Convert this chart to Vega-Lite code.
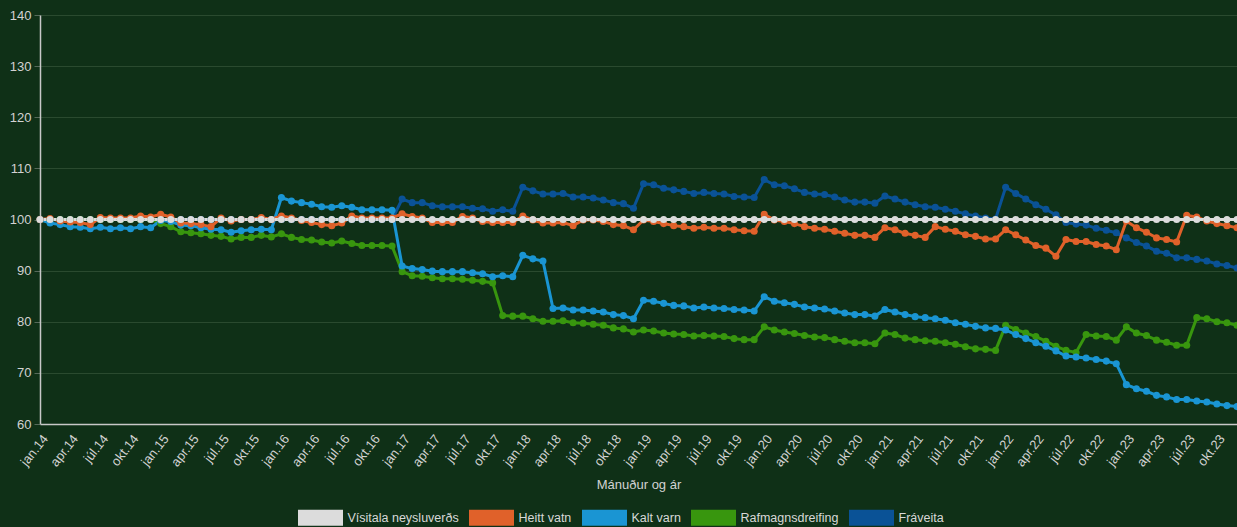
{
"$schema": "https://vega.github.io/schema/vega-lite/v6.json",
"width": 1197, "height": 409,
"autosize": {"type": "none"},
"padding": {"left": 40, "top": 15, "right": 0, "bottom": 103},
"background": "#0f3017",
"config": {"view": {"stroke": null}, "font": "Liberation Sans"},
"data": {"values": [
{"d":"2014-01","Vísitala neysluverðs":100,"Heitt vatn":100,"Kalt varn":100,"Rafmagnsdreifing":100,"Fráveita":100},
{"d":"2014-02","Vísitala neysluverðs":100,"Heitt vatn":100.2,"Kalt varn":99.3,"Rafmagnsdreifing":100,"Fráveita":100},
{"d":"2014-03","Vísitala neysluverðs":100,"Heitt vatn":99.7,"Kalt varn":99.0,"Rafmagnsdreifing":100,"Fráveita":100},
{"d":"2014-04","Vísitala neysluverðs":100,"Heitt vatn":99.5,"Kalt varn":98.6,"Rafmagnsdreifing":100,"Fráveita":100},
{"d":"2014-05","Vísitala neysluverðs":100,"Heitt vatn":99.4,"Kalt varn":98.5,"Rafmagnsdreifing":100,"Fráveita":100},
{"d":"2014-06","Vísitala neysluverðs":100,"Heitt vatn":99.0,"Kalt varn":98.2,"Rafmagnsdreifing":100,"Fráveita":100},
{"d":"2014-07","Vísitala neysluverðs":100,"Heitt vatn":100.4,"Kalt varn":98.5,"Rafmagnsdreifing":100,"Fráveita":100},
{"d":"2014-08","Vísitala neysluverðs":100,"Heitt vatn":100.3,"Kalt varn":98.2,"Rafmagnsdreifing":100,"Fráveita":100},
{"d":"2014-09","Vísitala neysluverðs":100,"Heitt vatn":100.3,"Kalt varn":98.4,"Rafmagnsdreifing":100,"Fráveita":100},
{"d":"2014-10","Vísitala neysluverðs":100,"Heitt vatn":100.3,"Kalt varn":98.2,"Rafmagnsdreifing":100,"Fráveita":100},
{"d":"2014-11","Vísitala neysluverðs":100,"Heitt vatn":100.7,"Kalt varn":98.6,"Rafmagnsdreifing":100,"Fráveita":100},
{"d":"2014-12","Vísitala neysluverðs":100,"Heitt vatn":100.5,"Kalt varn":98.4,"Rafmagnsdreifing":100,"Fráveita":100},
{"d":"2015-01","Vísitala neysluverðs":100,"Heitt vatn":101.0,"Kalt varn":99.8,"Rafmagnsdreifing":99.2,"Fráveita":100},
{"d":"2015-02","Vísitala neysluverðs":100,"Heitt vatn":100.5,"Kalt varn":99.6,"Rafmagnsdreifing":98.6,"Fráveita":100},
{"d":"2015-03","Vísitala neysluverðs":100,"Heitt vatn":99.3,"Kalt varn":98.9,"Rafmagnsdreifing":97.6,"Fráveita":100},
{"d":"2015-04","Vísitala neysluverðs":100,"Heitt vatn":99.2,"Kalt varn":98.8,"Rafmagnsdreifing":97.4,"Fráveita":100},
{"d":"2015-05","Vísitala neysluverðs":100,"Heitt vatn":99.0,"Kalt varn":98.4,"Rafmagnsdreifing":97.2,"Fráveita":100},
{"d":"2015-06","Vísitala neysluverðs":100,"Heitt vatn":98.6,"Kalt varn":98.1,"Rafmagnsdreifing":96.9,"Fráveita":100},
{"d":"2015-07","Vísitala neysluverðs":100,"Heitt vatn":100.3,"Kalt varn":98.0,"Rafmagnsdreifing":96.7,"Fráveita":100},
{"d":"2015-08","Vísitala neysluverðs":100,"Heitt vatn":99.7,"Kalt varn":97.5,"Rafmagnsdreifing":96.2,"Fráveita":100},
{"d":"2015-09","Vísitala neysluverðs":100,"Heitt vatn":100.0,"Kalt varn":97.8,"Rafmagnsdreifing":96.5,"Fráveita":100},
{"d":"2015-10","Vísitala neysluverðs":100,"Heitt vatn":100.0,"Kalt varn":98.0,"Rafmagnsdreifing":96.5,"Fráveita":100},
{"d":"2015-11","Vísitala neysluverðs":100,"Heitt vatn":100.4,"Kalt varn":98.1,"Rafmagnsdreifing":96.9,"Fráveita":100},
{"d":"2015-12","Vísitala neysluverðs":100,"Heitt vatn":100.0,"Kalt varn":98.0,"Rafmagnsdreifing":96.6,"Fráveita":100},
{"d":"2016-01","Vísitala neysluverðs":100,"Heitt vatn":100.7,"Kalt varn":104.3,"Rafmagnsdreifing":97.2,"Fráveita":100},
{"d":"2016-02","Vísitala neysluverðs":100,"Heitt vatn":100.3,"Kalt varn":103.6,"Rafmagnsdreifing":96.5,"Fráveita":100},
{"d":"2016-03","Vísitala neysluverðs":100,"Heitt vatn":99.8,"Kalt varn":103.3,"Rafmagnsdreifing":96.1,"Fráveita":100},
{"d":"2016-04","Vísitala neysluverðs":100,"Heitt vatn":99.4,"Kalt varn":103.0,"Rafmagnsdreifing":96.0,"Fráveita":100},
{"d":"2016-05","Vísitala neysluverðs":100,"Heitt vatn":99.0,"Kalt varn":102.5,"Rafmagnsdreifing":95.6,"Fráveita":100},
{"d":"2016-06","Vísitala neysluverðs":100,"Heitt vatn":98.8,"Kalt varn":102.4,"Rafmagnsdreifing":95.4,"Fráveita":100},
{"d":"2016-07","Vísitala neysluverðs":100,"Heitt vatn":99.3,"Kalt varn":102.7,"Rafmagnsdreifing":95.8,"Fráveita":100},
{"d":"2016-08","Vísitala neysluverðs":100,"Heitt vatn":100.7,"Kalt varn":102.4,"Rafmagnsdreifing":95.3,"Fráveita":100},
{"d":"2016-09","Vísitala neysluverðs":100,"Heitt vatn":100.3,"Kalt varn":101.9,"Rafmagnsdreifing":94.9,"Fráveita":100},
{"d":"2016-10","Vísitala neysluverðs":100,"Heitt vatn":100.3,"Kalt varn":101.9,"Rafmagnsdreifing":94.9,"Fráveita":100},
{"d":"2016-11","Vísitala neysluverðs":100,"Heitt vatn":100.3,"Kalt varn":101.9,"Rafmagnsdreifing":94.9,"Fráveita":100},
{"d":"2016-12","Vísitala neysluverðs":100,"Heitt vatn":100.3,"Kalt varn":101.8,"Rafmagnsdreifing":94.8,"Fráveita":100},
{"d":"2017-01","Vísitala neysluverðs":100,"Heitt vatn":101.1,"Kalt varn":90.9,"Rafmagnsdreifing":89.8,"Fráveita":104.0},
{"d":"2017-02","Vísitala neysluverðs":100,"Heitt vatn":100.6,"Kalt varn":90.4,"Rafmagnsdreifing":89.0,"Fráveita":103.3},
{"d":"2017-03","Vísitala neysluverðs":100,"Heitt vatn":100.3,"Kalt varn":90.2,"Rafmagnsdreifing":88.9,"Fráveita":103.3},
{"d":"2017-04","Vísitala neysluverðs":100,"Heitt vatn":99.4,"Kalt varn":89.9,"Rafmagnsdreifing":88.6,"Fráveita":102.7},
{"d":"2017-05","Vísitala neysluverðs":100,"Heitt vatn":99.4,"Kalt varn":89.8,"Rafmagnsdreifing":88.4,"Fráveita":102.5},
{"d":"2017-06","Vísitala neysluverðs":100,"Heitt vatn":99.4,"Kalt varn":89.8,"Rafmagnsdreifing":88.4,"Fráveita":102.5},
{"d":"2017-07","Vísitala neysluverðs":100,"Heitt vatn":100.6,"Kalt varn":89.8,"Rafmagnsdreifing":88.3,"Fráveita":102.5},
{"d":"2017-08","Vísitala neysluverðs":100,"Heitt vatn":100.3,"Kalt varn":89.6,"Rafmagnsdreifing":88.1,"Fráveita":102.2},
{"d":"2017-09","Vísitala neysluverðs":100,"Heitt vatn":99.6,"Kalt varn":89.4,"Rafmagnsdreifing":87.9,"Fráveita":102.1},
{"d":"2017-10","Vísitala neysluverðs":100,"Heitt vatn":99.4,"Kalt varn":88.8,"Rafmagnsdreifing":87.6,"Fráveita":101.6},
{"d":"2017-11","Vísitala neysluverðs":100,"Heitt vatn":99.4,"Kalt varn":89.0,"Rafmagnsdreifing":81.2,"Fráveita":101.9},
{"d":"2017-12","Vísitala neysluverðs":100,"Heitt vatn":99.4,"Kalt varn":88.8,"Rafmagnsdreifing":81.1,"Fráveita":101.6},
{"d":"2018-01","Vísitala neysluverðs":100,"Heitt vatn":100.7,"Kalt varn":93.0,"Rafmagnsdreifing":81.1,"Fráveita":106.3},
{"d":"2018-02","Vísitala neysluverðs":100,"Heitt vatn":99.9,"Kalt varn":92.3,"Rafmagnsdreifing":80.6,"Fráveita":105.6},
{"d":"2018-03","Vísitala neysluverðs":100,"Heitt vatn":99.3,"Kalt varn":91.9,"Rafmagnsdreifing":80.1,"Fráveita":105.0},
{"d":"2018-04","Vísitala neysluverðs":100,"Heitt vatn":99.3,"Kalt varn":82.6,"Rafmagnsdreifing":80.1,"Fráveita":105.0},
{"d":"2018-05","Vísitala neysluverðs":100,"Heitt vatn":99.4,"Kalt varn":82.7,"Rafmagnsdreifing":80.2,"Fráveita":105.1},
{"d":"2018-06","Vísitala neysluverðs":100,"Heitt vatn":98.8,"Kalt varn":82.3,"Rafmagnsdreifing":79.8,"Fráveita":104.4},
{"d":"2018-07","Vísitala neysluverðs":100,"Heitt vatn":99.9,"Kalt varn":82.3,"Rafmagnsdreifing":79.7,"Fráveita":104.4},
{"d":"2018-08","Vísitala neysluverðs":100,"Heitt vatn":99.9,"Kalt varn":82.1,"Rafmagnsdreifing":79.5,"Fráveita":104.2},
{"d":"2018-09","Vísitala neysluverðs":100,"Heitt vatn":99.6,"Kalt varn":81.9,"Rafmagnsdreifing":79.3,"Fráveita":103.8},
{"d":"2018-10","Vísitala neysluverðs":100,"Heitt vatn":99.0,"Kalt varn":81.4,"Rafmagnsdreifing":78.8,"Fráveita":103.3},
{"d":"2018-11","Vísitala neysluverðs":100,"Heitt vatn":98.8,"Kalt varn":81.2,"Rafmagnsdreifing":78.6,"Fráveita":103.1},
{"d":"2018-12","Vísitala neysluverðs":100,"Heitt vatn":98.0,"Kalt varn":80.6,"Rafmagnsdreifing":78.0,"Fráveita":102.2},
{"d":"2019-01","Vísitala neysluverðs":100,"Heitt vatn":99.9,"Kalt varn":84.2,"Rafmagnsdreifing":78.4,"Fráveita":107.0},
{"d":"2019-02","Vísitala neysluverðs":100,"Heitt vatn":99.6,"Kalt varn":84.0,"Rafmagnsdreifing":78.2,"Fráveita":106.8},
{"d":"2019-03","Vísitala neysluverðs":100,"Heitt vatn":99.2,"Kalt varn":83.6,"Rafmagnsdreifing":77.8,"Fráveita":106.1},
{"d":"2019-04","Vísitala neysluverðs":100,"Heitt vatn":98.8,"Kalt varn":83.2,"Rafmagnsdreifing":77.6,"Fráveita":105.8},
{"d":"2019-05","Vísitala neysluverðs":100,"Heitt vatn":98.6,"Kalt varn":83.1,"Rafmagnsdreifing":77.5,"Fráveita":105.5},
{"d":"2019-06","Vísitala neysluverðs":100,"Heitt vatn":98.3,"Kalt varn":82.7,"Rafmagnsdreifing":77.2,"Fráveita":105.1},
{"d":"2019-07","Vísitala neysluverðs":100,"Heitt vatn":98.5,"Kalt varn":82.9,"Rafmagnsdreifing":77.3,"Fráveita":105.3},
{"d":"2019-08","Vísitala neysluverðs":100,"Heitt vatn":98.3,"Kalt varn":82.7,"Rafmagnsdreifing":77.2,"Fráveita":105.1},
{"d":"2019-09","Vísitala neysluverðs":100,"Heitt vatn":98.3,"Kalt varn":82.6,"Rafmagnsdreifing":77.1,"Fráveita":105.0},
{"d":"2019-10","Vísitala neysluverðs":100,"Heitt vatn":98.0,"Kalt varn":82.4,"Rafmagnsdreifing":76.7,"Fráveita":104.5},
{"d":"2019-11","Vísitala neysluverðs":100,"Heitt vatn":97.8,"Kalt varn":82.3,"Rafmagnsdreifing":76.5,"Fráveita":104.4},
{"d":"2019-12","Vísitala neysluverðs":100,"Heitt vatn":97.7,"Kalt varn":82.1,"Rafmagnsdreifing":76.5,"Fráveita":104.3},
{"d":"2020-01","Vísitala neysluverðs":100,"Heitt vatn":101.0,"Kalt varn":84.9,"Rafmagnsdreifing":79.0,"Fráveita":107.8},
{"d":"2020-02","Vísitala neysluverðs":100,"Heitt vatn":99.9,"Kalt varn":84.0,"Rafmagnsdreifing":78.4,"Fráveita":106.8},
{"d":"2020-03","Vísitala neysluverðs":100,"Heitt vatn":99.6,"Kalt varn":83.7,"Rafmagnsdreifing":78.0,"Fráveita":106.6},
{"d":"2020-04","Vísitala neysluverðs":100,"Heitt vatn":99.2,"Kalt varn":83.4,"Rafmagnsdreifing":77.7,"Fráveita":106.0},
{"d":"2020-05","Vísitala neysluverðs":100,"Heitt vatn":98.6,"Kalt varn":82.9,"Rafmagnsdreifing":77.3,"Fráveita":105.3},
{"d":"2020-06","Vísitala neysluverðs":100,"Heitt vatn":98.3,"Kalt varn":82.7,"Rafmagnsdreifing":77.0,"Fráveita":105.0},
{"d":"2020-07","Vísitala neysluverðs":100,"Heitt vatn":98.1,"Kalt varn":82.5,"Rafmagnsdreifing":76.9,"Fráveita":104.9},
{"d":"2020-08","Vísitala neysluverðs":100,"Heitt vatn":97.7,"Kalt varn":82.1,"Rafmagnsdreifing":76.5,"Fráveita":104.4},
{"d":"2020-09","Vísitala neysluverðs":100,"Heitt vatn":97.3,"Kalt varn":81.7,"Rafmagnsdreifing":76.2,"Fráveita":103.8},
{"d":"2020-10","Vísitala neysluverðs":100,"Heitt vatn":96.9,"Kalt varn":81.4,"Rafmagnsdreifing":75.9,"Fráveita":103.4},
{"d":"2020-11","Vísitala neysluverðs":100,"Heitt vatn":96.9,"Kalt varn":81.4,"Rafmagnsdreifing":75.9,"Fráveita":103.4},
{"d":"2020-12","Vísitala neysluverðs":100,"Heitt vatn":96.5,"Kalt varn":81.1,"Rafmagnsdreifing":75.7,"Fráveita":103.2},
{"d":"2021-01","Vísitala neysluverðs":100,"Heitt vatn":98.4,"Kalt varn":82.4,"Rafmagnsdreifing":77.8,"Fráveita":104.6},
{"d":"2021-02","Vísitala neysluverðs":100,"Heitt vatn":98.0,"Kalt varn":81.9,"Rafmagnsdreifing":77.5,"Fráveita":104.0},
{"d":"2021-03","Vísitala neysluverðs":100,"Heitt vatn":97.3,"Kalt varn":81.4,"Rafmagnsdreifing":76.8,"Fráveita":103.4},
{"d":"2021-04","Vísitala neysluverðs":100,"Heitt vatn":96.9,"Kalt varn":81.0,"Rafmagnsdreifing":76.5,"Fráveita":102.9},
{"d":"2021-05","Vísitala neysluverðs":100,"Heitt vatn":96.5,"Kalt varn":80.8,"Rafmagnsdreifing":76.3,"Fráveita":102.5},
{"d":"2021-06","Vísitala neysluverðs":100,"Heitt vatn":98.6,"Kalt varn":80.6,"Rafmagnsdreifing":76.2,"Fráveita":102.4},
{"d":"2021-07","Vísitala neysluverðs":100,"Heitt vatn":98.1,"Kalt varn":80.3,"Rafmagnsdreifing":75.9,"Fráveita":102.0},
{"d":"2021-08","Vísitala neysluverðs":100,"Heitt vatn":97.7,"Kalt varn":79.8,"Rafmagnsdreifing":75.6,"Fráveita":101.6},
{"d":"2021-09","Vísitala neysluverðs":100,"Heitt vatn":97.0,"Kalt varn":79.5,"Rafmagnsdreifing":75.1,"Fráveita":101.1},
{"d":"2021-10","Vísitala neysluverðs":100,"Heitt vatn":96.7,"Kalt varn":79.1,"Rafmagnsdreifing":74.7,"Fráveita":100.7},
{"d":"2021-11","Vísitala neysluverðs":100,"Heitt vatn":96.2,"Kalt varn":78.8,"Rafmagnsdreifing":74.6,"Fráveita":100.3},
{"d":"2021-12","Vísitala neysluverðs":100,"Heitt vatn":96.2,"Kalt varn":78.7,"Rafmagnsdreifing":74.4,"Fráveita":100.1},
{"d":"2022-01","Vísitala neysluverðs":100,"Heitt vatn":98.0,"Kalt varn":78.4,"Rafmagnsdreifing":79.3,"Fráveita":106.3},
{"d":"2022-02","Vísitala neysluverðs":100,"Heitt vatn":97.0,"Kalt varn":77.5,"Rafmagnsdreifing":78.5,"Fráveita":105.1},
{"d":"2022-03","Vísitala neysluverðs":100,"Heitt vatn":96.0,"Kalt varn":76.7,"Rafmagnsdreifing":77.8,"Fráveita":104.0},
{"d":"2022-04","Vísitala neysluverðs":100,"Heitt vatn":94.9,"Kalt varn":75.9,"Rafmagnsdreifing":77.1,"Fráveita":102.9},
{"d":"2022-05","Vísitala neysluverðs":100,"Heitt vatn":94.4,"Kalt varn":75.2,"Rafmagnsdreifing":76.2,"Fráveita":102.0},
{"d":"2022-06","Vísitala neysluverðs":100,"Heitt vatn":92.8,"Kalt varn":74.3,"Rafmagnsdreifing":75.2,"Fráveita":100.9},
{"d":"2022-07","Vísitala neysluverðs":100,"Heitt vatn":96.1,"Kalt varn":73.3,"Rafmagnsdreifing":74.4,"Fráveita":99.4},
{"d":"2022-08","Vísitala neysluverðs":100,"Heitt vatn":95.7,"Kalt varn":73.1,"Rafmagnsdreifing":74.0,"Fráveita":99.1},
{"d":"2022-09","Vísitala neysluverðs":100,"Heitt vatn":95.7,"Kalt varn":72.9,"Rafmagnsdreifing":77.5,"Fráveita":98.9},
{"d":"2022-10","Vísitala neysluverðs":100,"Heitt vatn":95.1,"Kalt varn":72.6,"Rafmagnsdreifing":77.2,"Fráveita":98.3},
{"d":"2022-11","Vísitala neysluverðs":100,"Heitt vatn":94.8,"Kalt varn":72.3,"Rafmagnsdreifing":77.1,"Fráveita":97.9},
{"d":"2022-12","Vísitala neysluverðs":100,"Heitt vatn":94.1,"Kalt varn":71.8,"Rafmagnsdreifing":76.4,"Fráveita":97.4},
{"d":"2023-01","Vísitala neysluverðs":100,"Heitt vatn":99.7,"Kalt varn":67.7,"Rafmagnsdreifing":79.0,"Fráveita":96.4},
{"d":"2023-02","Vísitala neysluverðs":100,"Heitt vatn":98.4,"Kalt varn":66.9,"Rafmagnsdreifing":77.8,"Fráveita":95.5},
{"d":"2023-03","Vísitala neysluverðs":100,"Heitt vatn":97.5,"Kalt varn":66.4,"Rafmagnsdreifing":77.3,"Fráveita":94.8},
{"d":"2023-04","Vísitala neysluverðs":100,"Heitt vatn":96.4,"Kalt varn":65.6,"Rafmagnsdreifing":76.4,"Fráveita":93.8},
{"d":"2023-05","Vísitala neysluverðs":100,"Heitt vatn":96.1,"Kalt varn":65.3,"Rafmagnsdreifing":76.0,"Fráveita":93.4},
{"d":"2023-06","Vísitala neysluverðs":100,"Heitt vatn":95.6,"Kalt varn":64.8,"Rafmagnsdreifing":75.4,"Fráveita":92.5},
{"d":"2023-07","Vísitala neysluverðs":100,"Heitt vatn":100.8,"Kalt varn":64.8,"Rafmagnsdreifing":75.4,"Fráveita":92.5},
{"d":"2023-08","Vísitala neysluverðs":100,"Heitt vatn":100.5,"Kalt varn":64.5,"Rafmagnsdreifing":80.8,"Fráveita":92.2},
{"d":"2023-09","Vísitala neysluverðs":100,"Heitt vatn":99.7,"Kalt varn":64.3,"Rafmagnsdreifing":80.6,"Fráveita":91.9},
{"d":"2023-10","Vísitala neysluverðs":100,"Heitt vatn":99.2,"Kalt varn":63.9,"Rafmagnsdreifing":80.0,"Fráveita":91.3},
{"d":"2023-11","Vísitala neysluverðs":100,"Heitt vatn":98.8,"Kalt varn":63.6,"Rafmagnsdreifing":79.8,"Fráveita":91.0},
{"d":"2023-12","Vísitala neysluverðs":100,"Heitt vatn":98.4,"Kalt varn":63.4,"Rafmagnsdreifing":79.3,"Fráveita":90.5}
]},
"transform": [{"fold": ["Fráveita","Rafmagnsdreifing","Kalt varn","Heitt vatn","Vísitala neysluverðs"], "as": ["serie","gildi"]}],
"encoding": {
  "x": {"field": "d", "type": "ordinal", "sort": null, "scale": {"type": "point", "padding": 0},
    "axis": {
      "values": ["2014-01","2014-04","2014-07","2014-10","2015-01","2015-04","2015-07","2015-10","2016-01","2016-04","2016-07","2016-10","2017-01","2017-04","2017-07","2017-10","2018-01","2018-04","2018-07","2018-10","2019-01","2019-04","2019-07","2019-10","2020-01","2020-04","2020-07","2020-10","2021-01","2021-04","2021-07","2021-10","2022-01","2022-04","2022-07","2022-10","2023-01","2023-04","2023-07","2023-10"],
      "labelExpr": "(substring(datum.value,5,7)=='01'?'jan':substring(datum.value,5,7)=='04'?'apr':substring(datum.value,5,7)=='07'?'júl':'okt')+'.'+substring(datum.value,2,4)",
      "labelAngle": -52, "labelFontSize": 13, "labelColor": "#d2d2d2", "labelFont": "Liberation Sans",
      "labelPadding": 12, "labelOffset": 5, "labelOverlap": false, "labelBound": false,
      "ticks": false, "grid": false, "domainColor": "#c8c8c8", "domainWidth": 1.5,
      "title": "Mánuður og ár", "titleColor": "#d2d2d2", "titleFontSize": 13, "titleFontWeight": "normal", "titleFont": "Liberation Sans", "titlePadding": 10
    }
  },
  "y": {"field": "gildi", "type": "quantitative", "scale": {"domain": [60, 140], "nice": false, "zero": false},
    "axis": {
      "values": [60,70,80,90,100,110,120,130,140],
      "labelFontSize": 13, "labelColor": "#d2d2d2", "labelFont": "Liberation Sans", "labelPadding": 3,
      "tickColor": "#56695a", "tickSize": 6, "domainColor": "#c8c8c8", "domainWidth": 1.5,
      "gridColor": "#2a4a2f", "gridWidth": 1, "title": null
    }
  },
  "color": {"field": "serie", "type": "nominal",
    "scale": {"domain": ["Vísitala neysluverðs","Heitt vatn","Kalt varn","Rafmagnsdreifing","Fráveita"], "range": ["#dcdcdc","#e0612a","#1a95d3","#38960e","#0a5296"]},
    "legend": {"orient": "none", "legendX": 258, "legendY": 480, "direction": "horizontal", "title": null, "padding": 0,
      "symbolType": "M-1,-0.3556H1V0.3556H-1Z", "symbolSize": 2025, "symbolStrokeWidth": 0, "symbolOpacity": 1,
      "labelFontSize": 12.5, "labelColor": "#d8d8d8", "labelFont": "Liberation Sans", "labelOffset": 4.5, "columnPadding": 10, "labelLimit": 0,
      "encode": {"symbols": {"update": {"fill": {"scale": "color", "field": "value"}, "stroke": {"value": "transparent"}, "strokeWidth": {"value": 0}}}}}
  }
},
"layer": [
  {"mark": {"type": "line", "strokeWidth": 3}},
  {"mark": {"type": "point", "filled": true, "size": 50, "opacity": 1}}
]
}
